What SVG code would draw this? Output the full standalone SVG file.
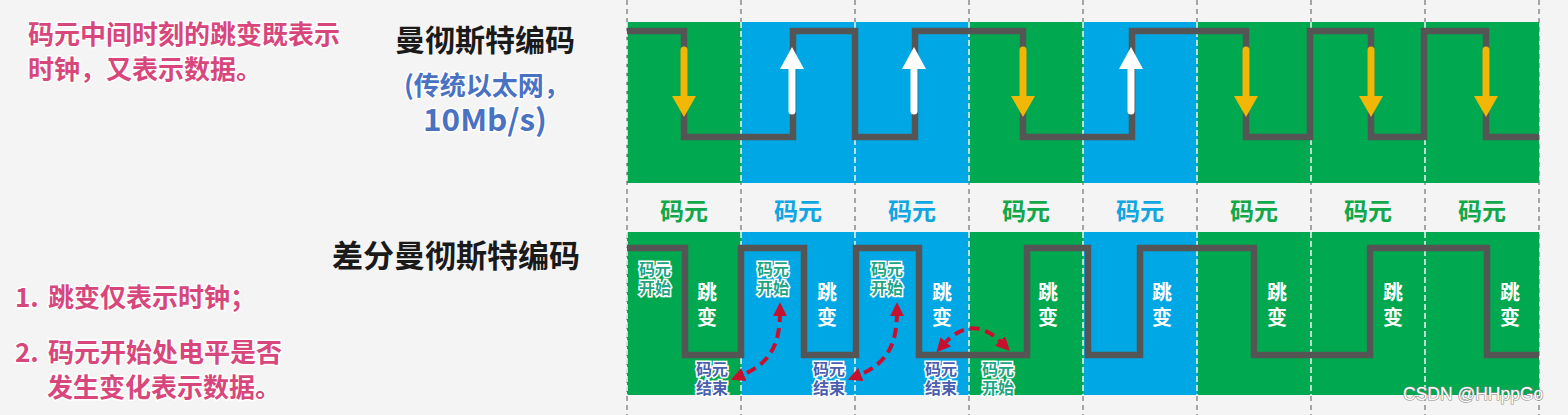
<svg xmlns="http://www.w3.org/2000/svg" width="1568" height="415" viewBox="0 0 1568 415">
<style>
text{font-family:"Noto Sans CJK SC","Noto Sans",sans-serif;font-weight:700}
.pink{fill:#d8477c;stroke:#fff;stroke-width:3;paint-order:stroke;font-size:26px}
.blk{fill:#1a1a1a;font-size:31px}
.blu{fill:#4a72c2;stroke:#fff;stroke-width:3;paint-order:stroke;font-size:26px}
.g{fill:#00a84f}.b{fill:#00a7e5}
.gdash{stroke:#8a8a8a;stroke-width:1.5;stroke-dasharray:5 4;fill:none}
.wdash{stroke:#f4f4f4;stroke-width:1.5;stroke-dasharray:6 3;fill:none}
.wave{fill:none;stroke:#555;stroke-width:6.5;stroke-linejoin:miter}
.lbl{font-size:24px;text-anchor:middle}
.lg{fill:#12a84a}.lb{fill:#10a6e2}
.tb{fill:#fff;font-size:20px;text-anchor:middle}
.ks{fill:#1fa585;stroke:#fff;stroke-width:3;paint-order:stroke;font-size:16px;text-anchor:middle}
.je{fill:#4a5fb0;stroke:#fff;stroke-width:3;paint-order:stroke;font-size:16px;text-anchor:middle}
.red{fill:none;stroke:#c8102e;stroke-width:4;stroke-dasharray:10 6;marker-start:url(#rh);marker-end:url(#rh)}
.yel{stroke:#f2b705;stroke-width:7;stroke-linecap:round}
.wht{stroke:#fff;stroke-width:7;stroke-linecap:round}
</style>
<defs>
<marker id="rh" viewBox="0 0 10 10" refX="3" refY="5" markerWidth="14" markerHeight="14" markerUnits="userSpaceOnUse" orient="auto-start-reverse">
<path d="M0,0 L10,5 L0,10 z" fill="#c8102e"/>
</marker>
</defs>
<rect width="1568" height="415" fill="#f4f4f4"/>

<g id="grid">
<path class="gdash" d="M627,0V415M741,0V415M855,0V415M969,0V415M1083,0V415M1197,0V415M1311,0V415M1425,0V415M1539,0V415"/>
</g>

<g id="left-notes">
<text class="pink" x="28" y="44">码元中间时刻的跳变既表示</text>
<text class="pink" x="28" y="79">时钟，又表示数据。</text>
<text class="pink" x="15" y="307">1.<tspan x="48">跳变仅表示时钟；</tspan></text>
<text class="pink" x="15" y="362">2.<tspan x="48">码元开始处电平是否</tspan></text>
<text class="pink" x="47" y="397">发生变化表示数据。</text>
</g>

<g id="title-manchester">
<text class="blk" x="395" y="51" style="font-size:30px">曼彻斯特编码</text>
<text class="blu" x="404" y="95">(传统以太网，</text>
<text class="blu" x="423" y="131" style="font-size:30px" textLength="124" lengthAdjust="spacingAndGlyphs">10Mb/s)</text>
</g>

<g id="title-diff">
<text class="blk" x="332" y="267">差分曼彻斯特编码</text>
</g>

<g id="top-panel">
<rect class="g" x="627" y="22" width="114" height="161"/>
<rect class="b" x="741" y="22" width="114" height="161"/>
<rect class="b" x="855" y="22" width="114" height="161"/>
<rect class="g" x="969" y="22" width="114" height="161"/>
<rect class="b" x="1083" y="22" width="114" height="161"/>
<rect class="g" x="1197" y="22" width="114" height="161"/>
<rect class="g" x="1311" y="22" width="114" height="161"/>
<rect class="g" x="1425" y="22" width="114" height="161"/>
<path class="wdash" d="M627,22V183M741,22V183M855,22V183M969,22V183M1083,22V183M1197,22V183M1311,22V183M1425,22V183"/>
</g>

<g id="bottom-panel">
<rect class="g" x="627" y="232" width="114" height="163"/>
<rect class="b" x="741" y="232" width="114" height="163"/>
<rect class="b" x="855" y="232" width="114" height="163"/>
<rect class="g" x="969" y="232" width="114" height="163"/>
<rect class="b" x="1083" y="232" width="114" height="163"/>
<rect class="g" x="1197" y="232" width="114" height="163"/>
<rect class="g" x="1311" y="232" width="114" height="163"/>
<rect class="g" x="1425" y="232" width="114" height="163"/>
<path class="wdash" d="M627,232V395M741,232V395M855,232V395M969,232V395M1083,232V395M1197,232V395M1311,232V395M1425,232V395"/>
</g>

<g id="top-wave">
<path class="wave" d="M627,31H684V137H793V31H855V137H915V31H1023V137H1132V31H1246V137H1310V31H1371V137H1424V31H1486V137H1539"/>
</g>

<g id="top-arrows">
<g class="yel"><line x1="684" y1="50" x2="684" y2="100"/><line x1="1023" y1="50" x2="1023" y2="100"/><line x1="1246" y1="50" x2="1246" y2="100"/><line x1="1371" y1="50" x2="1371" y2="100"/><line x1="1486" y1="50" x2="1486" y2="100"/></g>
<g fill="#f2b705"><path d="M672,96H696L684,117z"/><path d="M1011,96H1035L1023,117z"/><path d="M1234,96H1258L1246,117z"/><path d="M1359,96H1383L1371,117z"/><path d="M1474,96H1498L1486,117z"/></g>
<g class="wht"><line x1="792" y1="111" x2="792" y2="66"/><line x1="914" y1="111" x2="914" y2="66"/><line x1="1131" y1="111" x2="1131" y2="66"/></g>
<g fill="#fff"><path d="M780,69H804L792,47z"/><path d="M902,69H926L914,47z"/><path d="M1119,69H1143L1131,47z"/></g>
</g>

<g id="labels-row">
<text class="lbl lg" x="684" y="220">码元</text>
<text class="lbl lb" x="798" y="220">码元</text>
<text class="lbl lb" x="912" y="220">码元</text>
<text class="lbl lg" x="1026" y="220">码元</text>
<text class="lbl lb" x="1140" y="220">码元</text>
<text class="lbl lg" x="1254" y="220">码元</text>
<text class="lbl lg" x="1368" y="220">码元</text>
<text class="lbl lg" x="1482" y="220">码元</text>
</g>

<g id="bottom-wave">
<path class="wave" d="M627,248H685V355H741V248H804V355H856V248H919V355H1027V248H1088V355H1140V248H1254V355H1370V248H1487V355H1539"/>
</g>

<g id="bottom-labels">
<text class="ks" x="655" y="275">码元<tspan x="655" dy="19">开始</tspan></text>
<text class="ks" x="773" y="275">码元<tspan x="773" dy="19">开始</tspan></text>
<text class="ks" x="887" y="275">码元<tspan x="887" dy="19">开始</tspan></text>
<text class="ks" x="998" y="375">码元<tspan x="998" dy="19">开始</tspan></text>
<text class="je" x="712" y="375">码元<tspan x="712" dy="19">结束</tspan></text>
<text class="je" x="829" y="375">码元<tspan x="829" dy="19">结束</tspan></text>
<text class="je" x="941" y="375">码元<tspan x="941" dy="19">结束</tspan></text>
<text class="tb" x="707" y="300">跳<tspan x="707" dy="25">变</tspan></text>
<text class="tb" x="827" y="300">跳<tspan x="827" dy="25">变</tspan></text>
<text class="tb" x="942" y="300">跳<tspan x="942" dy="25">变</tspan></text>
<text class="tb" x="1048" y="300">跳<tspan x="1048" dy="25">变</tspan></text>
<text class="tb" x="1162" y="300">跳<tspan x="1162" dy="25">变</tspan></text>
<text class="tb" x="1277" y="300">跳<tspan x="1277" dy="25">变</tspan></text>
<text class="tb" x="1393" y="300">跳<tspan x="1393" dy="25">变</tspan></text>
<text class="tb" x="1510" y="300">跳<tspan x="1510" dy="25">变</tspan></text>
</g>

<g id="connectors">
<path class="red" d="M780,312C780,345 770,364 740,376"/>
<path class="red" d="M897,312C897,345 887,364 857,376"/>
<path class="red" d="M943,345Q972,312 1003,344"/>
</g>

<g id="watermark">
<text x="1403" y="400" style="font-family:'Liberation Sans',sans-serif;font-weight:400;font-size:17.5px;fill:#fff;stroke:#8c8c8c;stroke-width:1.2;paint-order:stroke">CSDN @HHppGo</text>
</g>
</svg>
